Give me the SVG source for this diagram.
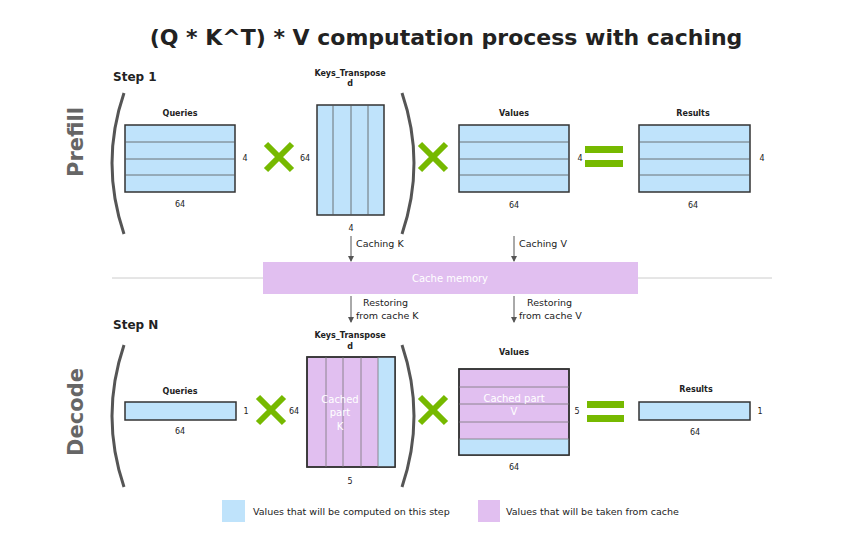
<svg xmlns="http://www.w3.org/2000/svg" width="844" height="543" viewBox="0 0 844 543">
<style>
text{font-family:"DejaVu Sans","Liberation Sans",sans-serif;fill:#222}
.t{font-size:22px;font-weight:bold;text-anchor:middle}
.s{font-size:12px;font-weight:bold}
.l{font-size:8px;font-weight:bold;text-anchor:middle}
.n{font-size:8px;text-anchor:middle}
.a{font-size:9.5px}
.ph{font-size:21px;font-weight:bold;fill:#666;text-anchor:middle}
.b{fill:#bfe3fb;stroke:#333;stroke-width:1.5}
.p{fill:#e1bff0;stroke:#333;stroke-width:1.5}
.g{stroke:#555;stroke-width:0.8;fill:none}
.gp{stroke:#777;stroke-width:0.8;fill:none}
.par{fill:none;stroke:#555;stroke-width:3}
.x{stroke:#76b900;stroke-width:6}
.eq{fill:#76b900}
.w{fill:#fff;font-size:10px;text-anchor:middle}
.ar{stroke:#555;stroke-width:1;marker-end:url(#m)}
</style>
<defs><marker id="m" markerWidth="6" markerHeight="6" refX="5" refY="3" orient="auto"><path d="M0,0L6,3L0,6z" fill="#555"/></marker></defs>
<rect width="844" height="543" fill="#fff"/>
<text class="t" x="446" y="45">(Q * K^T) * V computation process with caching</text>
<line x1="112" y1="278" x2="772" y2="278" stroke="#ccc" stroke-width="1"/>
<text class="ph" transform="translate(83,142) rotate(-90)">Prefill</text>
<text class="ph" transform="translate(83,412) rotate(-90)">Decode</text>
<g id="step1">
<text class="s" x="113" y="81">Step 1</text>
<path class="par" d="M124,93 Q100,163 124,234"/>
<path class="par" d="M402,93 Q426,163 402,234"/>
<g id="q1"><text class="l" x="180" y="116">Queries</text><rect class="b" x="125" y="125" width="110" height="67"/><path class="g" d="M125,142H235M125,159H235M125,175H235"/><text class="n" x="245" y="161">4</text><text class="n" x="180" y="207">64</text></g>
<path class="x" d="M266,144L292,170M292,144L266,170"/>
<g id="k1"><text class="l" x="350" y="76">Keys_Transpose</text><text class="l" x="350" y="86">d</text><rect class="b" x="317" y="105" width="67" height="110"/><path class="g" d="M333,105V215M351,105V215M368,105V215"/><text class="n" x="305" y="161">64</text><text class="n" x="351" y="231">4</text></g>
<path class="x" d="M420,144L446,170M446,144L420,170"/>
<g id="v1"><text class="l" x="514" y="116">Values</text><rect class="b" x="459" y="125" width="110" height="67"/><path class="g" d="M459,142H569M459,159H569M459,175H569"/><text class="n" x="580" y="161">4</text><text class="n" x="514" y="208">64</text></g>
<rect class="eq" x="585" y="146" width="38" height="7"/><rect class="eq" x="585" y="160" width="38" height="7"/>
<g id="r1"><text class="l" x="693" y="116">Results</text><rect class="b" x="639" y="125" width="111" height="67"/><path class="g" d="M639,142H750M639,159H750M639,175H750"/><text class="n" x="762" y="161">4</text><text class="n" x="693" y="208">64</text></g>
</g>
<g id="cache"><rect x="263" y="262" width="375" height="32" fill="#e1bff0"/><text class="w" x="450" y="282">Cache memory</text></g>
<g id="connectors">
<line class="ar" x1="351" y1="236" x2="351" y2="261"/><text class="a" x="356" y="247">Caching K</text>
<line class="ar" x1="514" y1="236" x2="514" y2="261"/><text class="a" x="519" y="247">Caching V</text>
<line class="ar" x1="351" y1="296" x2="351" y2="322"/><text class="a" x="363" y="306">Restoring</text><text class="a" x="356" y="319">from cache K</text>
<line class="ar" x1="514" y1="296" x2="514" y2="322"/><text class="a" x="527" y="306">Restoring</text><text class="a" x="519" y="319">from cache V</text>
</g>
<g id="stepN">
<text class="s" x="113" y="329">Step N</text>
<path class="par" d="M124,345 Q100,416 124,487"/>
<path class="par" d="M402,345 Q426,416 402,487"/>
<g id="q2"><text class="l" x="180" y="394">Queries</text><rect class="b" x="125" y="402" width="111" height="18"/><text class="n" x="246" y="414">1</text><text class="n" x="180" y="434">64</text></g>
<path class="x" d="M258,397L284,423M284,397L258,423"/>
<g id="k2"><text class="l" x="350" y="338">Keys_Transpose</text><text class="l" x="350" y="349">d</text><rect class="p" x="307" y="357" width="88" height="110"/><rect x="378" y="357" width="17" height="110" fill="#bfe3fb"/><rect x="307" y="357" width="88" height="110" fill="none" stroke="#333" stroke-width="1.5"/><path class="gp" d="M326,357V467M343,357V467M361,357V467M378,357V467"/><text class="w" x="340" y="403">Cached</text><text class="w" x="340" y="416">part</text><text class="w" x="340" y="430">K</text><text class="n" x="294" y="414">64</text><text class="n" x="350" y="484">5</text></g>
<path class="x" d="M420,397L446,423M446,397L420,423"/>
<g id="v2"><text class="l" x="514" y="355">Values</text><rect class="p" x="459" y="369" width="110" height="86"/><rect x="459" y="439" width="110" height="16" fill="#bfe3fb"/><rect x="459" y="369" width="110" height="86" fill="none" stroke="#333" stroke-width="1.5"/><path class="gp" d="M459,387H569M459,404H569M459,422H569M459,439H569"/><text class="w" x="514" y="402">Cached part</text><text class="w" x="514" y="415">V</text><text class="n" x="577" y="414">5</text><text class="n" x="514" y="470">64</text></g>
<rect class="eq" x="587" y="401" width="37" height="7"/><rect class="eq" x="587" y="415" width="37" height="7"/>
<g id="r2"><text class="l" x="696" y="392">Results</text><rect class="b" x="639" y="402" width="111" height="18"/><text class="n" x="760" y="414">1</text><text class="n" x="695" y="435">64</text></g>
</g>
<g id="legend">
<rect x="222" y="500" width="23" height="22" fill="#bfe3fb"/><text class="a" x="253" y="515">Values that will be computed on this step</text>
<rect x="478" y="500" width="22" height="22" fill="#e1bff0"/><text class="a" x="506" y="515">Values that will be taken from cache</text>
</g>
</svg>
